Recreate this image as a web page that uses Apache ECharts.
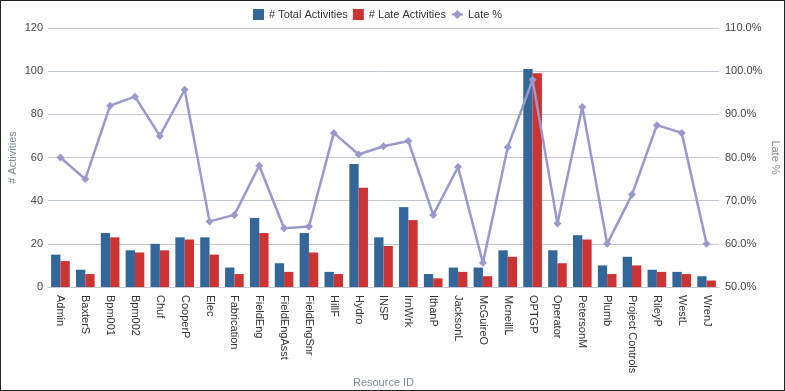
<!DOCTYPE html>
<html><head><meta charset="utf-8">
<script src="https://cdn.jsdelivr.net/npm/echarts@6/dist/echarts.min.js"></script>
<style>
html,body{margin:0;padding:0;background:#fff;}
#c{width:785px;height:391px;box-sizing:border-box;border:1px solid #222;}
</style></head>
<body><div id="c"></div>
<script>
const categories = ["Admin","BaxterS","Bpm001","Bpm002","Chuf","CooperP","Elec","Fabrication","FieldEng","FieldEngAsst","FieldEngSnr","HillF","Hydro","INSP","IrnWrk","IthanP","JacksonL","McGuireO","McneillL","OPTGP","Operator","PetersonM","Plumb","Project Controls","RileyP","WestL","WrenJ"];
const totalActivities = [15,8,25,17,20,23,23,9,32,11,25,7,57,23,37,6,9,9,17,101,17,24,10,14,8,7,5];
const lateActivities = [12,6,23,16,17,22,15,6,25,7,16,6,46,19,31,4,7,5,14,99,11,22,6,10,7,6,3];
const latePercent = [80.0,75.0,92.0,94.1,85.0,95.7,65.2,66.7,78.1,63.6,64.0,85.7,80.7,82.6,83.8,66.7,77.8,55.6,82.4,98.0,64.7,91.7,60.0,71.4,87.5,85.7,60.0];

const font = '"Liberation Sans", Arial, sans-serif';
const chart = echarts.init(document.getElementById('c'), null, {renderer:'canvas'});
chart.setOption({
  animation:false,
  textStyle:{fontFamily:font},
  legend:{
    top:3, left:247, itemWidth:11, itemHeight:11, itemGap:5,
    textStyle:{fontFamily:font,fontSize:11,color:'#333'},
    data:[{name:'# Total Activities',icon:'rect'},{name:'# Late Activities',icon:'rect'},{name:'Late %'}]
  },
  grid:{left:47,right:65,top:27,bottom:103,containLabel:false,outerBoundsMode:'none'},
  xAxis:{
    type:'category', data:categories,
    name:'Resource ID', nameLocation:'middle', nameGap:90, nameMoveOverlap:false,
    nameTextStyle:{color:'#7f8a96',fontSize:11,fontFamily:font},
    axisTick:{show:false},
    axisLine:{show:true,lineStyle:{color:'#c0c8d2'}},
    axisLabel:{rotate:-90,color:'#333',fontSize:11,fontFamily:font,interval:0,margin:8}
  },
  yAxis:[{
    type:'value', min:0, max:120, interval:20,
    name:'# Activities', nameLocation:'middle', nameGap:30, nameRotate:90, nameMoveOverlap:false,
    nameTextStyle:{color:'#7f8a96',fontSize:11,fontFamily:font},
    axisLine:{show:false}, axisTick:{show:false},
    axisLabel:{color:'#444',fontSize:11,fontFamily:font,margin:5},
    splitLine:{lineStyle:{color:'#c0c8d2',width:1}}
  },{
    type:'value', min:50, max:110, interval:10,
    name:'Late %', nameLocation:'middle', nameGap:51, nameRotate:-90, nameMoveOverlap:false,
    nameTextStyle:{color:'#8a8a8a',fontSize:11,fontFamily:font},
    axisLine:{show:false}, axisTick:{show:false},
    axisLabel:{color:'#444',fontSize:11,fontFamily:font,margin:6,formatter:v=>v.toFixed(1)+'%'},
    splitLine:{show:false}
  }],
  series:[
    {name:'# Total Activities',type:'bar',data:totalActivities,itemStyle:{color:'#336699'},barGap:'0%',barCategoryGap:'25%'},
    {name:'# Late Activities',type:'bar',data:lateActivities,itemStyle:{color:'#cc3333'},barGap:'0%',barCategoryGap:'25%'},
    {name:'Late %',type:'line',yAxisIndex:1,data:latePercent,symbol:'diamond',symbolSize:8,
     lineStyle:{color:'#9999cc',width:2.5},itemStyle:{color:'#9999cc'}}
  ]
});
</script></body></html>
